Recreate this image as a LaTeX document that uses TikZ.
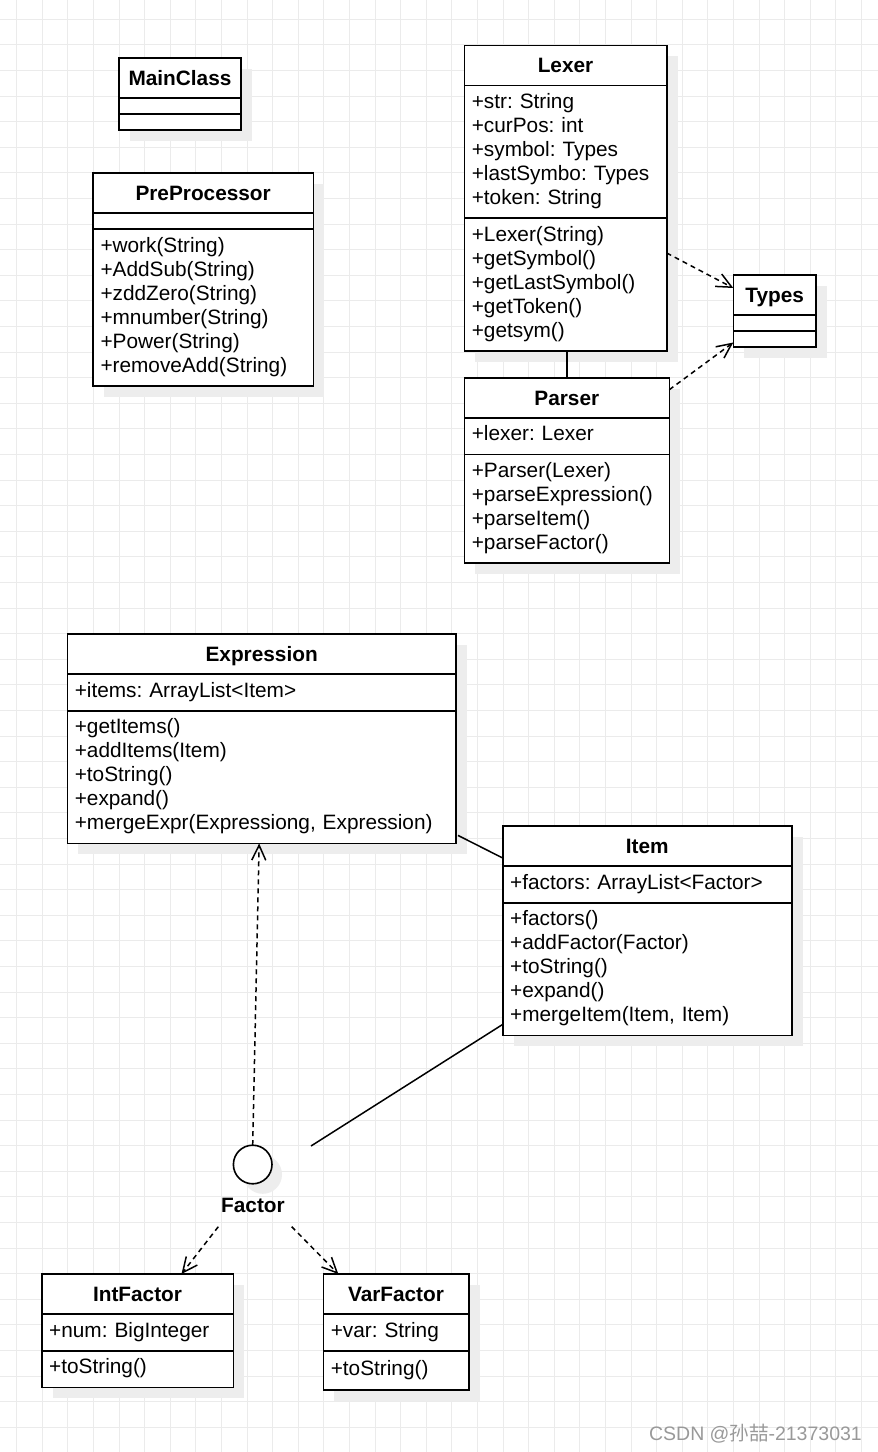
\documentclass[tikz,border=0pt]{standalone}
\usepackage{fontspec}
\setmainfont{Liberation Sans}
\newfontfamily\cjkfont{Noto Sans CJK SC}
\usetikzlibrary{positioning,arrows.meta,shadows}
\frenchspacing
\tikzset{
  umlbox/.style={
    rectangle, draw=black, fill=white, line width=1.6pt, outer sep=0pt,
    drop shadow={shadow xshift=11pt, shadow yshift=-11pt, fill=black!7, opacity=1},
  },
  clsname/.style={umlbox, font=\fontsize{20.8}{24}\selectfont\bfseries, align=center,
    minimum height=40pt, text height=15pt, text depth=0pt, inner xsep=7.5pt},
  members/.style={umlbox, font=\fontsize{20.8}{24}\selectfont, align=left,
    inner xsep=7.5pt, inner ysep=6.35pt,
    execute at begin node=\strut, execute at end node=\strut},
  slot/.style={umlbox, inner xsep=7.5pt, inner ysep=0pt, minimum height=16pt},
  iface/.style={circle, draw=black, fill=white, line width=1.6pt, inner sep=0pt, outer sep=0pt,
    minimum size=38.6pt,
    drop shadow={shadow xshift=10pt, shadow yshift=-10pt, fill=black!7, opacity=1}},
  gridline/.style={draw=black!8, line width=1pt},
  assoc/.style={line width=1.5pt, draw=black},
  depend/.style={line width=1.5pt, draw=black, dash pattern=on 5pt off 4pt,
    -{Straight Barb[length=15pt,width=14pt]}},
}
\begin{document}
\begin{tikzpicture}[x=1pt, y=-1pt]

\fill[white] (0,0) rectangle (878,1452);
\useasboundingbox (0,0) rectangle (878,1452);

% ===== background grid =====
\foreach \i in {0,...,33} \draw[gridline] ({16.7+25.6*\i},0) -- ({16.7+25.6*\i},1452);
\foreach \j in {0,...,55} \draw[gridline] (0,{19.3+25.6*\j}) -- (878,{19.3+25.6*\j});

% ===== MainClass =====
\begin{scope}[nodes={text width=107pt}]
\node[clsname, anchor=north west] (mainc) at (119,58) {MainClass};
\node[slot, below=0pt of mainc] (maincF) {};
\node[slot, below=0pt of maincF] (maincM) {};
\end{scope}

% ===== PreProcessor =====
\begin{scope}[nodes={text width=205.3pt}]
\node[clsname, anchor=north west] (prep) at (93,173) {PreProcessor};
\node[slot, below=0pt of prep] (prepF) {};
\node[members, below=0pt of prepF] (prepM)
  {+work(String)\\+AddSub(String)\\+zddZero(String)\\+mnumber(String)\\+Power(String)\\+removeAdd(String)};
\end{scope}

% ===== Lexer =====
\begin{scope}[nodes={text width=187.4pt}]
\node[clsname, anchor=north west] (lexer) at (464.3,45.3) {Lexer};
\node[members, below=0pt of lexer] (lexerF)
  {+str: String\\+curPos: int\\+symbol: Types\\+lastSymbo: Types\\+token: String};
\node[members, below=0pt of lexerF] (lexerM)
  {+Lexer(String)\\+getSymbol()\\+getLastSymbol()\\+getToken()\\+getsym()};
\end{scope}

% ===== Types =====
\begin{scope}[nodes={text width=67.7pt}]
\node[clsname, anchor=north west] (types) at (733.3,275) {Types};
\node[slot, below=0pt of types] (typesF) {};
\node[slot, below=0pt of typesF] (typesM) {};
\end{scope}

% ===== Parser =====
\begin{scope}[nodes={text width=190pt}]
\node[clsname, anchor=north west] (parser) at (464.3,377.7) {Parser};
\node[members, below=0pt of parser] (parserF) {+lexer: Lexer};
\node[members, below=0pt of parserF] (parserM)
  {+Parser(Lexer)\\+parseExpression()\\+parseItem()\\+parseFactor()};
\end{scope}

% ===== Expression =====
\begin{scope}[nodes={text width=373.7pt}]
\node[clsname, anchor=north west] (expr) at (67.3,634) {Expression};
\node[members, below=0pt of expr] (exprF) {+items: ArrayList<Item>};
\node[members, below=0pt of exprF] (exprM)
  {+getItems()\\+addItems(Item)\\+toString()\\+expand()\\+mergeExpr(Expressiong, Expression)};
\end{scope}

% ===== Item =====
\begin{scope}[nodes={text width=274pt}]
\node[clsname, anchor=north west] (item) at (502.7,826) {Item};
\node[members, below=0pt of item] (itemF) {+factors: ArrayList<Factor>};
\node[members, below=0pt of itemF] (itemM)
  {+factors()\\+addFactor(Factor)\\+toString()\\+expand()\\+mergeItem(Item, Item)};
\end{scope}

% ===== Factor interface =====
\node[iface] (factor) at (252.7,1164.5) {};
\node[font=\fontsize{20.8}{24}\selectfont\bfseries, text height=15pt, text depth=0pt,
  inner sep=0pt] (factorL) at (253,1205) {Factor};

% ===== IntFactor / VarFactor =====
\begin{scope}[nodes={text width=176.6pt}]
\node[clsname, anchor=north west] (intf) at (41.7,1274) {IntFactor};
\node[members, below=0pt of intf] (intfF) {+num: BigInteger};
\node[members, below=0pt of intfF] (intfM) {+toString()};
\end{scope}

\begin{scope}[nodes={text width=130.4pt}]
\node[clsname, anchor=north west] (varf) at (323.3,1274) {VarFactor};
\node[members, below=0pt of varf] (varfF) {+var: String};
\node[members, below=0pt of varfF, minimum height=39.3pt] (varfM) {+toString()};
\end{scope}

% ===== connectors =====
\draw[assoc] (parser.north) -- (parser.north |- lexerM.south);
\draw[depend] ([yshift=-35pt]lexerM.north east) -- ([yshift=-13pt]types.north west);
\draw[depend] ([yshift=-12pt]parser.north east) -- ([yshift=4.5pt]typesM.south west);

\draw[assoc] ([shift={(2pt,8pt)}]exprM.south east) -- ([yshift=-32pt]item.north west);
\coordinate (itemEnd) at (311,1146);
\draw[assoc] ([yshift=11pt]itemM.south west) -- (itemEnd);

\draw[depend] (factor.north) -- ([xshift=-2.5pt]exprM.south);
\draw[depend] ([shift={(-34.4pt,-62.2pt)}]factor.center) -- ([xshift=44pt]intf.north);
\draw[depend] ([shift={(39pt,-62.2pt)}]factor.center) -- ([xshift=15pt]varf.north west);

% ===== watermark =====
\node[font=\fontsize{19.5}{22}\selectfont, text=black!40, text height=14pt, text depth=0pt,
  inner sep=0pt, anchor=east] (mark) at (862,1433) {CSDN @{\cjkfont 孙喆}-21373031};

\end{tikzpicture}
\end{document}
